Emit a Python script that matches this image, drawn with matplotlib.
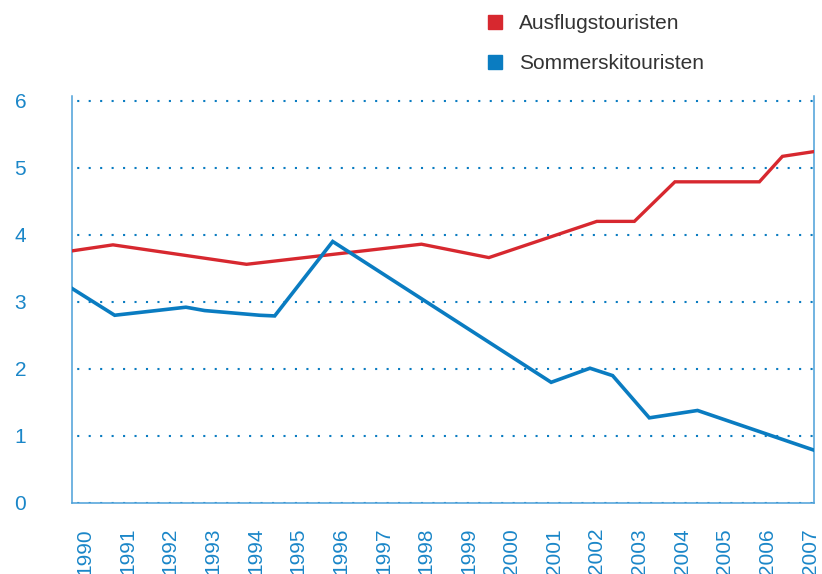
"""Ausflugs- vs. Sommerskitouristen, 1990-2007
"""

import matplotlib
matplotlib.use('Agg')
import matplotlib.pyplot as plt
from matplotlib.lines import Line2D

RED = '#d7282f'
BLUE = '#0a7cc1'
AXIS_BLUE = '#4a9fd8'
LABEL_BLUE = '#1a86c8'

years = list(range(1990, 2008))
y_ticks = [0, 1, 2, 3, 4, 5, 6]

# values (x in fractional years)
ausflug_x = [1989.70, 1990.66, 1993.79, 1997.89, 1999.47, 2002.00, 2002.88,
             2003.83, 2005.81, 2006.35, 2007.08]
ausflug_y = [3.76, 3.85, 3.56, 3.86, 3.66, 4.20, 4.20, 4.79, 4.79, 5.17, 5.24]

sommerski_x = [1989.70, 1990.70, 1992.37, 1992.81, 1994.10, 1994.45, 1995.81,
               2000.93, 2001.84, 2002.37, 2003.23, 2004.36, 2007.08]
sommerski_y = [3.20, 2.80, 2.92, 2.87, 2.80, 2.79, 3.90, 1.80, 2.01, 1.90,
               1.27, 1.38, 0.79]

plt.rcParams['font.family'] = ['Liberation Sans', 'DejaVu Sans']

fig = plt.figure(figsize=(8.22, 5.74), dpi=100)
ax = fig.add_axes([72 / 822, 1 - 503 / 574, (814 - 72) / 822, (503 - 96) / 574])

ax.plot(ausflug_x, ausflug_y, color=RED, lw=2.4, solid_joinstyle='miter', zorder=3)
ax.plot(sommerski_x, sommerski_y, color=BLUE, lw=2.6, solid_joinstyle='miter', zorder=3)

ax.set_xlim(1989.70, 2007.09)
ax.set_ylim(0, 6.07)
ax.set_xticks(years)
ax.set_xticklabels([str(y) for y in years], rotation=90)
ax.set_yticks(y_ticks)
ax.tick_params(axis='x', length=0, pad=18, labelsize=15, labelcolor=LABEL_BLUE)
ax.tick_params(axis='y', length=0, pad=33, labelsize=15, labelcolor=LABEL_BLUE)

ax.yaxis.grid(True, color=BLUE, lw=1.5, linestyle=(3, (1, 4.5)))
ax.set_axisbelow(True)

ax.spines['top'].set_visible(False)
for side in ['left', 'right', 'bottom']:
    ax.spines[side].set_color(AXIS_BLUE)
    ax.spines[side].set_linewidth(1.1)

handles = [Line2D([], [], marker='s', linestyle='none', color=RED, markersize=10),
           Line2D([], [], marker='s', linestyle='none', color=BLUE, markersize=10)]
fig.legend(handles, ['Ausflugstouristen', 'Sommerskitouristen'],
           loc='upper left', bbox_to_anchor=(485 / 822, 1 - 14 / 574),
           frameon=False, fontsize=15, handlelength=1, handletextpad=0.65,
           borderpad=0, borderaxespad=0, labelspacing=1.02, labelcolor='#333333')

fig.savefig('out.png', dpi=100)
